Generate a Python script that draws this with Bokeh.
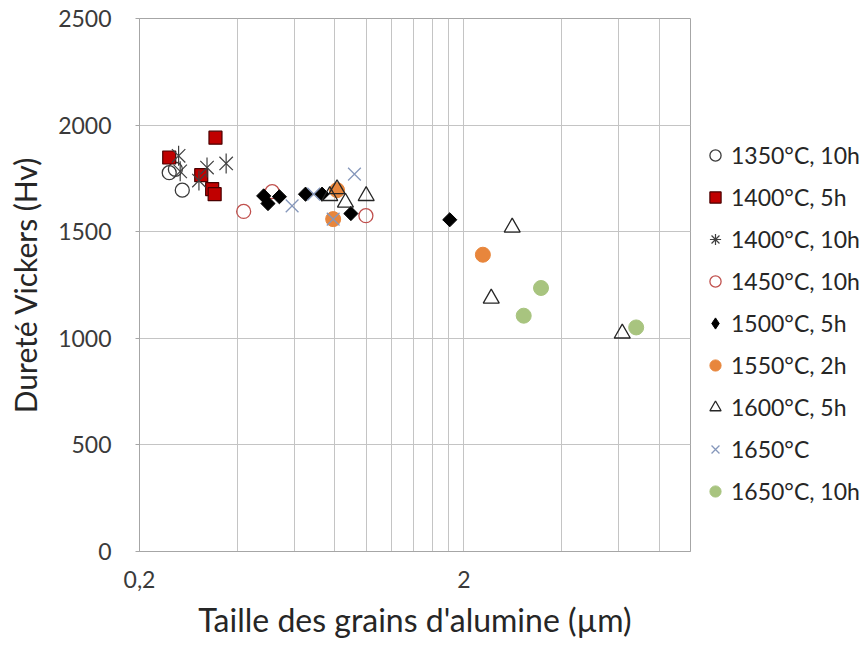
import math
from bokeh.plotting import figure
from bokeh.models import Range1d, FixedTicker, Legend, LegendItem, ColumnDataSource
from bokeh.embed import file_html
from bokeh.resources import INLINE

# ---------------- data ----------------
series_names = ["1350°C, 10h", "1400°C, 5h", "1400°C, 10h", "1450°C, 10h",
                "1500°C, 5h", "1550°C, 2h", "1600°C, 5h", "1650°C", "1650°C, 10h"]

x_1350_10h = [0.247, 0.258, 0.271]
y_1350_10h = [1777, 1793, 1695]

x_1400_5h = [0.247, 0.343, 0.310, 0.335, 0.341]
y_1400_5h = [1848, 1941, 1765, 1700, 1676]

x_1400_10h = [0.264, 0.267, 0.323, 0.370, 0.305]
y_1400_10h = [1856, 1783, 1801, 1820, 1740]

x_1450_10h = [0.419, 0.513, 0.998]
y_1450_10h = [1595, 1688, 1575]

x_1500_5h = [0.483, 0.498, 0.540, 0.650, 0.731, 0.897, 1.81]
y_1500_5h = [1668, 1632, 1664, 1676, 1676, 1585, 1556]

x_1550_2h = [0.813, 0.791, 2.29]
y_1550_2h = [1695, 1559, 1392]

x_1600_5h = [0.772, 0.813, 0.863, 1.00, 2.82, 2.43, 6.16]
y_1600_5h = [1668, 1700, 1637, 1668, 1520, 1187, 1023]

x_1650 = [0.591, 0.689, 0.791, 0.920]
y_1650 = [1621, 1676, 1559, 1770]

x_1650_10h = [3.46, 3.06, 6.80]
y_1650_10h = [1236, 1106, 1051]

x_tick_values = [0.2, 2]
x_tick_labels = ["0,2", "2"]
x_grid_values = [0.2, 0.4, 0.6, 0.8, 1.0, 1.2, 1.4, 1.6, 1.8, 2.0, 4, 6, 8, 10]
y_tick_values = [0, 500, 1000, 1500, 2000, 2500]

x_title = "Taille des grains d'alumine (µm)"
y_title = "Dureté Vickers (Hv)"

# ---------------- figure ----------------
FONT = "Lato"
p = figure(frame_width=551, frame_height=533,
           min_border_left=139, min_border_right=170,
           min_border_top=18, min_border_bottom=95,
           x_axis_type="log", x_range=Range1d(0.2, 10), y_range=Range1d(0, 2500),
           output_backend="svg", toolbar_location=None,
           background_fill_color="white", border_fill_color="white")

p.outline_line_color = "#a6a6a6"
p.outline_line_width = 1

grid_color = "#c4c4c4"
p.xgrid.ticker = FixedTicker(ticks=x_grid_values)
p.xgrid.grid_line_color = grid_color
p.ygrid.ticker = FixedTicker(ticks=y_tick_values)
p.ygrid.grid_line_color = grid_color

p.xaxis.ticker = FixedTicker(ticks=x_tick_values)
p.xaxis.major_label_overrides = dict(zip(x_tick_values, x_tick_labels))
p.yaxis.ticker = FixedTicker(ticks=y_tick_values)

for ax in (p.xaxis[0], p.yaxis[0]):
    ax.axis_line_color = "#a6a6a6"
    ax.major_tick_line_color = "#a6a6a6"
    ax.minor_tick_line_color = None
    ax.major_tick_in = 0
    ax.major_label_text_font = FONT
    ax.major_label_text_font_size = "23px"
    ax.major_label_text_color = "#3a3a3a"
    ax.axis_label_text_font = FONT
    ax.axis_label_text_font_style = "normal"
    ax.axis_label_text_color = "#262626"

p.xaxis.major_tick_out = 0
p.xaxis.major_label_standoff = 19
p.xaxis.axis_label = x_title
p.xaxis.axis_label_text_font_size = "32px"
p.xaxis.axis_label_standoff = 9

p.yaxis.major_tick_out = 4
p.yaxis.major_label_standoff = 24
p.yaxis.axis_label = y_title
p.yaxis.axis_label_text_font_size = "30px"
p.yaxis.axis_label_standoff = 12

# ---------------- series ----------------
NAN = float("nan")
DIAG = math.pi / 4
VERT = math.pi / 2


def add_series(name, xs, ys, layers, legend_layers=None):
    """layers: list of marker specs drawn on the same points (drawn in order)."""
    src = ColumnDataSource(dict(x=xs, y=ys))
    rends = []
    for st in layers:
        rends.append(p.scatter("x", "y", source=src, **st))
    if legend_layers is not None:
        rends = [p.scatter(x=[NAN], y=[NAN], **st) for st in legend_layers]
    return LegendItem(label=name, renderers=rends)


dark = "#3a3a3a"
items = [
    add_series(series_names[0], x_1350_10h, y_1350_10h,
               [dict(marker="circle", size=14, fill_color=None, line_color=dark, line_width=1.3)]),
    add_series(series_names[1], x_1400_5h, y_1400_5h,
               [dict(marker="square", size=13, fill_color="#c00000", line_color="#4a0000", line_width=1.2)]),
    add_series(series_names[2], x_1400_10h, y_1400_10h,
               [dict(marker="x", size=19, line_color="#404040", line_width=1.2),
                dict(marker="dash", size=20, angle=VERT, line_color="#404040", line_width=1.2)],
               legend_layers=[dict(marker="asterisk", size=14, line_color="#404040", line_width=1.2)]),
    add_series(series_names[3], x_1450_10h, y_1450_10h,
               [dict(marker="circle", size=14, fill_color=None, line_color="#c0504d", line_width=1.3)]),
    add_series(series_names[4], x_1500_5h, y_1500_5h,
               [dict(marker="square", size=10, angle=DIAG, fill_color="#000000", line_color="#000000", line_width=1)],
               legend_layers=[dict(marker="diamond", size=10, fill_color="#000000", line_color="#000000")]),
    add_series(series_names[5], x_1550_2h, y_1550_2h,
               [dict(marker="circle", size=15, fill_color="#e8863c", line_color="#e8863c", line_width=1)]),
    add_series(series_names[6], x_1600_5h, y_1600_5h,
               [dict(marker="triangle", size=16, fill_color=None, line_color="#262626", line_width=1.3)]),
    add_series(series_names[7], x_1650, y_1650,
               [dict(marker="x", size=18, line_color="#8597bb", line_width=1.3)]),
    add_series(series_names[8], x_1650_10h, y_1650_10h,
               [dict(marker="circle", size=15, fill_color="#a8c47f", line_color="#a8c47f", line_width=1)]),
]

legend = Legend(items=items, location=(11, 46),
                glyph_width=28, glyph_height=28, label_height=28,
                label_standoff=2, spacing=14, padding=0, margin=0,
                label_text_font=FONT, label_text_font_size="23px",
                label_text_color="#262626",
                background_fill_alpha=0, border_line_alpha=0)
p.add_layout(legend, "right")

open("out.html", "w").write(file_html(p, INLINE))
